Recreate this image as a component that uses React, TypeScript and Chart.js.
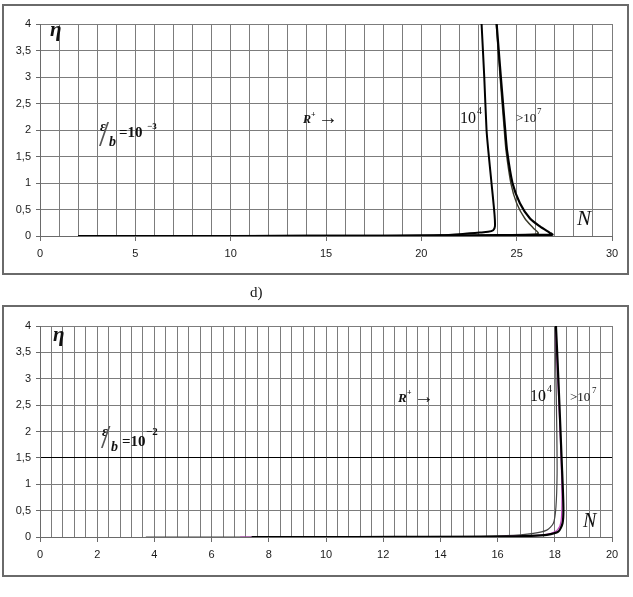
import React, { useEffect, useRef } from 'react';
import { Chart, registerables } from 'chart.js';
Chart.register(...registerables);

// ---------- Top chart (ε/b = 10^-3), N axis 0..30 ----------
const topXTicksMax = 30;
const topN_1e4 = [2, 8, 14, 18, 21, 22.55, 23.07, 23.5, 23.77, 23.86, 23.84, 23.68, 23.51, 23.42, 23.3, 23.16];
const topEta_1e4 = [0, 0, 0.003, 0.006, 0.012, 0.05, 0.065, 0.08, 0.11, 0.18, 0.4, 1.0, 1.62, 2.0, 3.0, 4.0];
const topN_1e7 = [2, 10, 18, 21, 24, 25.5, 26.4, 26.88, 26.74, 26.22, 25.7, 25.17, 24.78, 24.5, 24.4, 24.17, 23.95];
const topEta_1e7 = [0, 0, 0.004, 0.01, 0.015, 0.02, 0.02, 0.025, 0.06, 0.18, 0.33, 0.62, 1.0, 1.6, 2.0, 3.0, 4.0];
const topN_1e7b = [20.4, 22, 24, 25.3, 26.13, 25.87, 25.43, 25.0, 24.7, 24.44, 24.35, 24.13, 23.93];
const topEta_1e7b = [0, 0.01, 0.015, 0.025, 0.05, 0.15, 0.33, 0.62, 0.99, 1.62, 2.0, 3.0, 4.0];

// ---------- Bottom chart (ε/b = 10^-2), N axis 0..20 ----------
const botXTicksMax = 20;
const botN_1e4 = [3.7, 8, 12, 15, 16.3, 17.25, 17.72, 17.95, 18.04, 18.08, 18.07, 18.04, 18.01];
const botEta_1e4 = [0, 0, 0.003, 0.01, 0.025, 0.07, 0.13, 0.26, 0.57, 1.2, 2.0, 3.0, 4.0];
const botN_1e7 = [7.4, 11, 14, 16, 17.13, 17.72, 18.12, 18.27, 18.3, 18.24, 18.16, 18.1, 18.04];
const botEta_1e7 = [0, 0, 0.003, 0.008, 0.02, 0.04, 0.1, 0.26, 0.57, 1.46, 2.53, 3.3, 4.0];
const botN_mag = [7.0, 12, 16, 17.3, 17.8, 18.1, 18.22, 18.25, 18.2, 18.12, 18.06, 18.03];
const botEta_mag = [0, 0, 0.008, 0.025, 0.06, 0.14, 0.3, 0.8, 1.8, 2.8, 3.5, 4.0];

const etaMin = 0;
const etaMax = 4;
const etaStep = 0.5;

const pts = (xs: number[], ys: number[]) => xs.map((x, i) => ({ x, y: ys[i] }));
const isMult = (v: number, m: number) => Math.abs(v / m - Math.round(v / m)) < 1e-6;

const gridGray = '#7c7c7c';

function buildOptions(xMax: number, xStep: number, labelEvery: number, padTop: number, padBottom: number, darkY: number | null): any {
  return {
    responsive: false,
    animation: false,
    events: [],
    layout: { padding: { left: 0, right: 21, top: padTop, bottom: padBottom } },
    plugins: { legend: { display: false }, tooltip: { enabled: false } },
    elements: { point: { radius: 0 } },
    scales: {
      x: {
        type: 'linear',
        min: 0,
        max: xMax,
        afterFit: (s: any) => { s.height = 30; },
        border: { color: '#6a6a6a', width: 1 },
        grid: {
          color: gridGray,
          lineWidth: 1,
          tickLength: 5,
          tickColor: (c: any) => (c.tick && isMult(c.tick.value, labelEvery) ? '#6a6a6a' : 'rgba(0,0,0,0)'),
        },
        ticks: {
          stepSize: xStep,
          autoSkip: false,
          maxRotation: 0,
          minRotation: 0,
          padding: 6,
          color: '#1a1a1a',
          font: { family: "'Liberation Sans', Arial, sans-serif", size: 11 },
          callback: (v: any) => (isMult(Number(v), labelEvery) ? String(Math.round(Number(v))) : ''),
        },
      },
      y: {
        type: 'linear',
        min: etaMin,
        max: etaMax,
        afterFit: (s: any) => { s.width = 40; },
        border: { color: '#6a6a6a', width: 1 },
        grid: {
          color: (c: any) => (darkY !== null && c.tick && Math.abs(c.tick.value - darkY) < 1e-9 ? '#000' : gridGray),
          lineWidth: 1,
          tickLength: 4,
          tickColor: '#6a6a6a',
        },
        ticks: {
          stepSize: etaStep,
          padding: 5,
          color: '#1a1a1a',
          font: { family: "'Liberation Sans', Arial, sans-serif", size: 11 },
          callback: (v: any) => String(v).replace('.', ','),
        },
      },
    },
  };
}

const serif = "'Liberation Serif', 'Times New Roman', serif";

function T(props: { x: number; y: number; s: number; b?: boolean; i?: boolean; c?: string; children: any }) {
  return (
    <div
      style={{
        position: 'absolute',
        left: props.x,
        top: props.y,
        fontSize: props.s,
        lineHeight: 1,
        fontFamily: serif,
        fontWeight: props.b ? 'bold' : 'normal',
        fontStyle: props.i ? 'italic' : 'normal',
        color: props.c || '#111',
        whiteSpace: 'nowrap',
      }}
    >
      {props.children}
    </div>
  );
}

export default function App() {
  const topRef = useRef<HTMLCanvasElement>(null);
  const botRef = useRef<HTMLCanvasElement>(null);

  useEffect(() => {
    const top = new Chart(topRef.current as HTMLCanvasElement, {
      type: 'scatter',
      data: {
        datasets: [
          { data: pts(topN_1e4, topEta_1e4), showLine: true, borderColor: '#000', borderWidth: 2, tension: 0.25, pointRadius: 0 },
          { data: pts(topN_1e7, topEta_1e7), showLine: true, borderColor: '#000', borderWidth: 2.2, tension: 0.25, pointRadius: 0 },
          { data: pts(topN_1e7b, topEta_1e7b), showLine: true, borderColor: '#3a3a2a', borderWidth: 1.4, tension: 0.25, pointRadius: 0 },
        ],
      } as any,
      options: buildOptions(topXTicksMax, 1, 5, 24, 14, null),
    });
    const bot = new Chart(botRef.current as HTMLCanvasElement, {
      type: 'scatter',
      data: {
        datasets: [
          { data: pts(botN_1e7, botEta_1e7), showLine: true, borderColor: '#000', borderWidth: 2.2, tension: 0.25, pointRadius: 0 },
          { data: pts(botN_mag, botEta_mag), showLine: true, borderColor: '#c040c0', borderWidth: 1.2, tension: 0.25, pointRadius: 0 },
          { data: pts(botN_1e4, botEta_1e4), showLine: true, borderColor: '#444', borderWidth: 1.2, tension: 0.25, pointRadius: 0 },
        ],
      } as any,
      options: buildOptions(botXTicksMax, 0.4, 2, 26, 23, 1.5),
    });
    return () => {
      top.destroy();
      bot.destroy();
    };
  }, []);

  return (
    <div style={{ position: 'absolute', left: 0, top: 0, width: 633, height: 597, background: '#fff', overflow: 'hidden' }}>
      <div style={{ position: 'absolute', left: 2, top: 4, width: 627, height: 271, border: '2px solid #6a6a6a', boxSizing: 'border-box' }} />
      <div style={{ position: 'absolute', left: 2, top: 305, width: 627, height: 272, border: '2px solid #6a6a6a', boxSizing: 'border-box' }} />
      <canvas ref={topRef} width={633} height={280} style={{ position: 'absolute', left: 0, top: 0, width: 633, height: 280 }} />
      <canvas ref={botRef} width={633} height={290} style={{ position: 'absolute', left: 0, top: 300, width: 633, height: 290 }} />

      {/* top annotations */}
      <T x={50} y={19} s={21} b i>η</T>
      <T x={100} y={120} s={14} b i>ε</T>
      <T x={99} y={116} s={36} c="#555">/</T>
      <T x={109} y={135} s={14} b i>b</T>
      <T x={119} y={125} s={15} b>=10</T>
      <T x={147} y={122} s={9} b>−3</T>
      <T x={303} y={113} s={12} b i>R</T>
      <T x={311} y={111} s={8} b>+</T>
      <T x={318} y={107} s={20}>→</T>
      <T x={460} y={110} s={16}>10</T>
      <T x={477} y={106} s={10}>4</T>
      <T x={516} y={111} s={13}>&gt;10</T>
      <T x={537} y={107} s={9}>7</T>
      <T x={577} y={208} s={21} i>N</T>

      <T x={250} y={285} s={15}>d)</T>

      {/* bottom annotations */}
      <T x={53} y={324} s={21} b i>η</T>
      <T x={102} y={425} s={14} b i>ε</T>
      <T x={101} y={420} s={34} c="#555">/</T>
      <T x={111} y={440} s={14} b i>b</T>
      <T x={122} y={434} s={15} b>=10</T>
      <T x={146} y={426} s={11} b>−2</T>
      <T x={398} y={391} s={13} b i>R</T>
      <T x={407} y={389} s={8} b>+</T>
      <T x={414} y={386} s={20}>→</T>
      <T x={530} y={388} s={16}>10</T>
      <T x={547} y={384} s={10}>4</T>
      <T x={570} y={390} s={13}>&gt;10</T>
      <T x={592} y={386} s={9}>7</T>
      <T x={583} y={510} s={20} i>N</T>
    </div>
  );
}
